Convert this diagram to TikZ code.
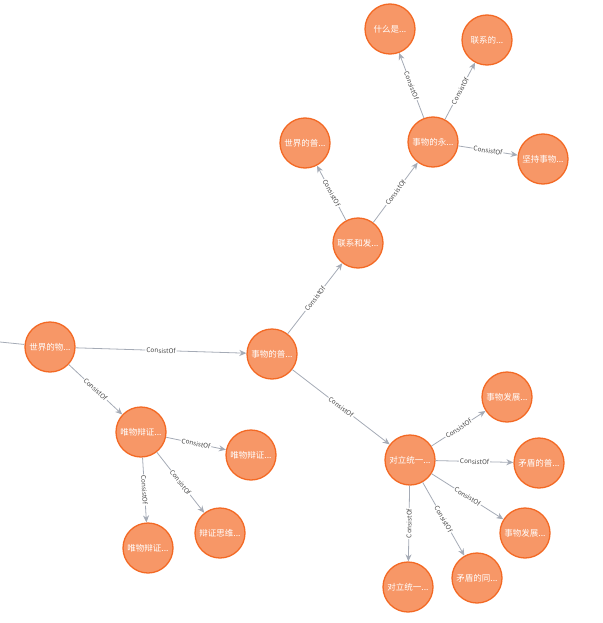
\documentclass[tikz,border=0pt]{standalone}
\usepackage{fontspec}
\newfontfamily\cjk{Noto Sans CJK SC}
\usetikzlibrary{arrows.meta}
\definecolor{nfill}{HTML}{F79767}
\definecolor{ndraw}{HTML}{F36924}
\definecolor{edge}{HTML}{A5ABB6}
\begin{document}
\begin{tikzpicture}[x=1pt,y=-1pt,
  ent/.style={circle,draw=ndraw,fill=nfill,line width=1.3pt,minimum size=50pt,inner sep=0pt,text=white,font=\cjk\fontsize{8.5}{9}\selectfont},
  rel/.style={draw=edge,line width=0.8pt,-{Stealth[length=7pt,width=6pt]}},
  lab/.style={midway,sloped,fill=white,inner sep=1pt,text=black!70,font=\cjk\fontsize{6.5}{7}\selectfont}]
\useasboundingbox (0,0) rectangle (602,623);
\node[ent] (A) at (50,347) {世界的物...};
\node[ent] (B) at (272,354) {事物的普...};
\node[ent] (C) at (358,243) {联系和发...};
\node[ent] (D) at (305,143) {世界的普...};
\node[ent] (E) at (433,142) {事物的永...};
\node[ent] (F) at (390,29) {什么是...};
\node[ent] (G) at (487,40) {联系的...};
\node[ent] (H) at (543,159) {坚持事物...};
\node[ent] (I) at (141,432) {唯物辩证...};
\node[ent] (J) at (251,455) {唯物辩证...};
\node[ent] (K) at (148,548) {唯物辩证...};
\node[ent] (L) at (220,533) {辩证思维...};
\node[ent] (M) at (410,460) {对立统一...};
\node[ent] (N) at (507,397) {事物发展...};
\node[ent] (O) at (539,463) {矛盾的普...};
\node[ent] (P) at (525,533) {事物发展...};
\node[ent] (Q) at (408,587) {对立统一...};
\node[ent] (R) at (477,578) {矛盾的同...};
\coordinate (Z) at (0,342);
\draw[draw=edge,line width=0.8pt] (Z) -- (A);
\foreach \s/\t in {A/B,A/I,B/C,B/M,C/D,C/E,E/F,E/G,E/H,I/J,I/K,I/L,M/N,M/O,M/P,M/Q,M/R}
  \path[rel] (\s) -- (\t) node[lab] {ConsistOf};
\end{tikzpicture}
\end{document}
